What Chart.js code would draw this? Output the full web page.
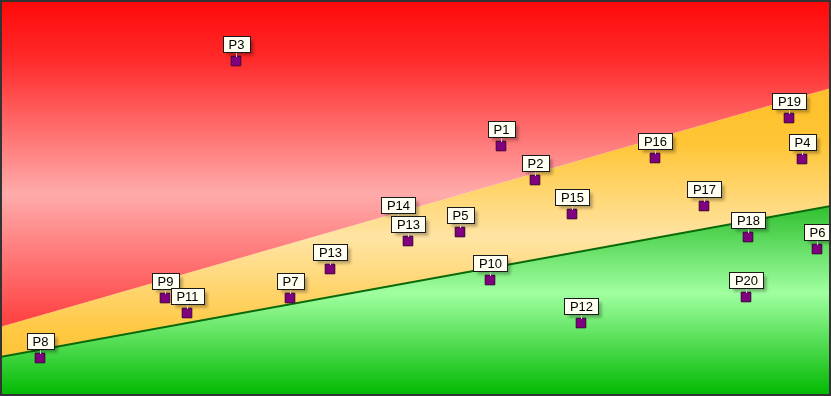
<!DOCTYPE html>
<html>
<head>
<meta charset="utf-8">
<script src="https://cdn.jsdelivr.net/npm/chart.js@4/dist/chart.umd.min.js"></script>
<style>
html,body{margin:0;padding:0;background:#fff;}
#wrap{width:831px;height:396px;position:relative;}
</style>
</head>
<body>
<div id="wrap"><canvas id="c" width="831" height="396"></canvas></div>
<script>
// Point labels and positions (x, y in plot units; y measured upward)
const labels = ["P1","P2","P3","P4","P5","P6","P7","P8","P9","P10","P11","P12","P13","P14","P13","P15","P16","P17","P18","P19","P20"];
const xValues = [501,535,236,802,460,817,290,40,165,490,187,581,330,398,408,572,655,704,748,789,746];
const yValues = [250,216,335,237,164,147,98,38,98,116,83,73,127,174,155,182,238,190,159,278,99];
// Zone boundaries
const boundaryX = [0,831];
const upperBoundary = [69,308];
const lowerBoundary = [39,190];

const X_MIN = 0, X_MAX = 831, Y_MIN = 0, Y_MAX = 396;

function grad(chart, stops){
  const {ctx, chartArea} = chart;
  if(!chartArea) return null;
  const g = ctx.createLinearGradient(0, chartArea.top, 0, chartArea.bottom);
  stops.forEach(s => g.addColorStop(s[0], s[1]));
  return g;
}
const redStops = [[0,'#ff0808'],[0.15,'#ff2a2a'],[0.49,'#ffabab'],[0.8,'#ff4646'],[1,'#ff3030']];
const yellowStops = [[0,'#ffb818'],[0.36,'#ffc535'],[0.6,'#ffe4a4'],[0.84,'#ffc840'],[1,'#ffc030']];
const greenStops = [[0,'#10a010'],[0.52,'#30c030'],[0.74,'#a0ffa0'],[1,'#00b800']];

const toPts = (xs, ys) => xs.map((x,i)=>({x:x, y:ys[i]}));

const labelPlugin = {
  id:'pointLabels',
  afterDatasetsDraw(chart){
    const ctx = chart.ctx;
    const meta = chart.getDatasetMeta(3);
    ctx.save();
    ctx.font = '13px "Liberation Sans", Arial, sans-serif';
    ctx.textAlign = 'center';
    ctx.textBaseline = 'middle';
    meta.data.forEach((el, i) => {
      const x = Math.round(el.x), y = Math.round(el.y);
      const txt = labels[i];
      const w = Math.round(ctx.measureText(txt).width) + 11;
      const h = 16;
      const bx = Math.round(x - w/2) + 0.5;
      const by = y - 9 - h + 0.5;
      // connector
      ctx.strokeStyle = 'rgba(255,255,255,0.9)';
      ctx.lineWidth = 1;
      ctx.beginPath();
      ctx.moveTo(x + 0.5, by + h);
      ctx.lineTo(x + 0.5, y - 4);
      ctx.stroke();
      // box with shadow
      ctx.shadowColor = 'rgba(0,0,0,0.3)';
      ctx.shadowBlur = 3;
      ctx.shadowOffsetX = 3;
      ctx.shadowOffsetY = 3;
      ctx.fillStyle = '#fffff2';
      ctx.fillRect(bx, by, w, h);
      ctx.shadowColor = 'transparent';
      ctx.shadowBlur = 0; ctx.shadowOffsetX = 0; ctx.shadowOffsetY = 0;
      ctx.strokeStyle = '#1a1a1a';
      ctx.strokeRect(bx, by, w, h);
      ctx.fillStyle = '#000';
      ctx.fillText(txt, x + 0.5, by + h/2 + 1);
    });
    ctx.restore();
  },
  afterDraw(chart){
    const ctx = chart.ctx;
    ctx.save();
    ctx.strokeStyle = '#333';
    ctx.lineWidth = 2;
    ctx.strokeRect(1, 1, chart.width - 2, chart.height - 2);
    ctx.restore();
  }
};

new Chart(document.getElementById('c'), {
  type:'scatter',
  data:{
    datasets:[
      { type:'line', data: toPts(boundaryX, upperBoundary), fill:'end', borderWidth:0, pointRadius:0,
        backgroundColor: c => grad(c.chart, redStops), borderColor:'rgba(0,0,0,0)' },
      { type:'line', data: toPts(boundaryX, lowerBoundary), fill:0, borderWidth:2, pointRadius:0,
        backgroundColor: c => grad(c.chart, yellowStops), borderColor:'#0a6a0a' },
      { type:'line', data: toPts(boundaryX, lowerBoundary), fill:'start', borderWidth:0, pointRadius:0,
        backgroundColor: c => grad(c.chart, greenStops), borderColor:'rgba(0,0,0,0)', order:5 },
      { type:'scatter', data: toPts(xValues, yValues), pointStyle:'rect', pointRadius:6.8,
        backgroundColor:'#800080', borderColor:'#3a003a', borderWidth:1, order:-1 }
    ]
  },
  options:{
    responsive:false,
    animation:false,
    layout:{padding:0, autoPadding:false},
    plugins:{legend:{display:false}, tooltip:{enabled:false}},
    scales:{
      x:{type:'linear', min:X_MIN, max:X_MAX, display:false},
      y:{type:'linear', min:Y_MIN, max:Y_MAX, display:false}
    }
  },
  plugins:[labelPlugin]
});
</script>
</body>
</html>
